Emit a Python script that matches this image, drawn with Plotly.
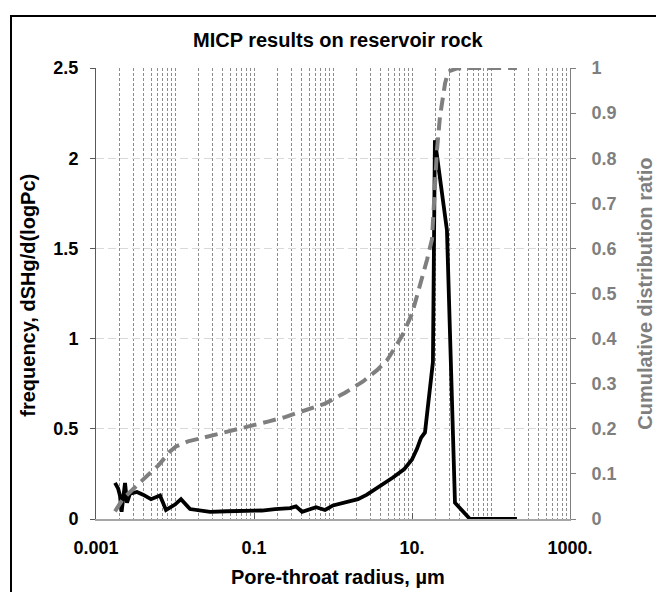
import plotly.graph_objects as go

# ---- data ----
freq_radius = [0.00174, 0.0019, 0.00201, 0.00211, 0.00233, 0.00247, 0.00269, 0.0033, 0.00394,
               0.00497, 0.00646, 0.00769, 0.01, 0.0119, 0.0155, 0.0207, 0.0277, 0.0455, 0.0769,
               0.126, 0.185, 0.286, 0.34, 0.406, 0.61, 0.793, 1.0, 1.42, 2.07, 2.69, 3.94,
               5.74, 7.93, 10.0, 11.6, 13.0, 14.6, 18.4, 19.5, 27.7, 35.0, 54.2, 213]
freq_value = [0.20, 0.17, 0.13, 0.04, 0.20, 0.09, 0.14, 0.15, 0.135,
              0.11, 0.13, 0.05, 0.08, 0.11, 0.055, 0.045, 0.04, 0.043, 0.045,
              0.047, 0.055, 0.06, 0.07, 0.04, 0.065, 0.05, 0.075, 0.09, 0.11, 0.135, 0.18,
              0.23, 0.275, 0.33, 0.39, 0.45, 0.48, 0.87, 2.10, 1.60, 0.09, 0.0, 0.0]

cum_radius = [0.00174, 0.0022, 0.00382, 0.00626, 0.00865, 0.0103, 0.0146, 0.0269, 0.0558,
              0.0916, 0.150, 0.247, 0.394, 0.793, 1.42, 2.40, 3.61, 4.83, 6.09, 7.69,
              10.0, 11.9, 15.5, 17.9, 19.5, 20.7, 22.6, 26.2, 28.8, 37.1, 54.2, 213]
cum_value = [0.017, 0.045, 0.085, 0.12, 0.15, 0.161, 0.172, 0.183, 0.197,
             0.205, 0.216, 0.226, 0.238, 0.256, 0.28, 0.305, 0.33, 0.352, 0.38, 0.41,
             0.455, 0.5, 0.575, 0.62, 0.737, 0.818, 0.892, 0.966, 0.992, 0.999, 1.0, 1.0]

x_tick_vals = [0.001, 0.1, 10, 1000]
x_tick_text = ["0.001", "0.1", "10.", "1000."]
x_minor_vals = [k * 10.0 ** d for d in range(-3, 3) for k in range(1, 10)
                if (k * 10.0 ** d) not in x_tick_vals]

title_text = "MICP results on reservoir rock"
x_title = "Pore-throat radius, µm"
y_title = "frequency, dSHg/d(logPc)"
y2_title = "Cumulative distribution ratio"

FONT = "Liberation Sans, Arial, sans-serif"
GREY = "#7f7f7f"

W, H = 656, 592
PL, PR, PT, PB = 96, 570, 68, 519.5
PW, PH = PR - PL, PB - PT


def px_x(x):
    return (x - PL) / PW


def px_y(y):
    return (PB - y) / PH


fig = go.Figure()
fig.add_trace(go.Scatter(x=freq_radius, y=freq_value, mode="lines",
                         line=dict(color="black", width=3.8), yaxis="y", showlegend=False))
fig.add_trace(go.Scatter(x=cum_radius, y=cum_value, mode="lines",
                         line=dict(color=GREY, width=4, dash="13px,7px"), yaxis="y2",
                         showlegend=False))

fig.update_layout(
    width=W, height=H,
    margin=dict(l=PL, r=W - PR, t=PT, b=H - PB, pad=0),
    paper_bgcolor="white", plot_bgcolor="white",
    font=dict(family=FONT, color="black"),
    hovermode=False,
    xaxis=dict(type="log", range=[-3, 3],
               tickmode="array", tickvals=x_tick_vals, ticktext=x_tick_text,
               ticks="inside", ticklen=6, tickcolor="#595959", tickwidth=1,
               tickfont=dict(size=18, weight="bold", color="black"),
               ticklabelstandoff=12,
               showline=True, linecolor="#a6a6a6", linewidth=1.5,
               showgrid=True, gridcolor="#8c8c8c", gridwidth=1, griddash="3px,2px",
               minor=dict(tickmode="array", tickvals=x_minor_vals, showgrid=True,
                          gridcolor="#8c8c8c", gridwidth=1, griddash="3px,2px", ticks=""),
               zeroline=False),
    yaxis=dict(range=[0, 2.5], dtick=0.5, tick0=0,
               ticks="outside", ticklen=5, tickcolor="#595959",
               tickfont=dict(size=18, weight="bold", color="black"),
               ticklabelstandoff=8,
               showline=True, linecolor="#595959", linewidth=1,
               showgrid=True, gridcolor="#d9d9d9", gridwidth=1, griddash="8px,4px",
               zeroline=False),
    yaxis2=dict(range=[0, 1], dtick=0.1, tick0=0, overlaying="y", side="right",
                ticks="outside", ticklen=5, tickcolor=GREY,
                tickfont=dict(size=18, weight="bold", color=GREY),
                ticklabelstandoff=12,
                showline=True, linecolor=GREY, linewidth=1,
                showgrid=False, zeroline=False),
)

fig.add_annotation(text="<b>" + title_text + "</b>", xref="paper", yref="paper",
                   x=px_x(338), y=px_y(40), xanchor="center", yanchor="middle",
                   showarrow=False, font=dict(size=20, color="black", family=FONT))
fig.add_annotation(text="<b>" + x_title + "</b>", xref="paper", yref="paper",
                   x=px_x(338), y=px_y(578), xanchor="center", yanchor="middle",
                   showarrow=False, font=dict(size=20, color="black", family=FONT))
fig.add_annotation(text="<b>" + y_title + "</b>", xref="paper", yref="paper",
                   x=px_x(28), y=px_y(296), xanchor="center", yanchor="middle",
                   textangle=-90, showarrow=False, font=dict(size=20, color="black", family=FONT))
fig.add_annotation(text="<b>" + y2_title + "</b>", xref="paper", yref="paper",
                   x=px_x(645), y=px_y(294), xanchor="center", yanchor="middle",
                   textangle=-90, showarrow=False, font=dict(size=20, color=GREY, family=FONT))

# chart-area border (cropped at right and bottom in the reference)
fig.add_shape(type="rect", xref="paper", yref="paper",
              x0=px_x(11), x1=px_x(690),
              y0=px_y(640), y1=px_y(16),
              line=dict(color="black", width=2), fillcolor="rgba(0,0,0,0)", layer="below")

fig.write_html("out.html",
               config={"displayModeBar": False, "staticPlot": True},
               post_script="document.body.style.margin='0';document.body.style.overflow='hidden';")
